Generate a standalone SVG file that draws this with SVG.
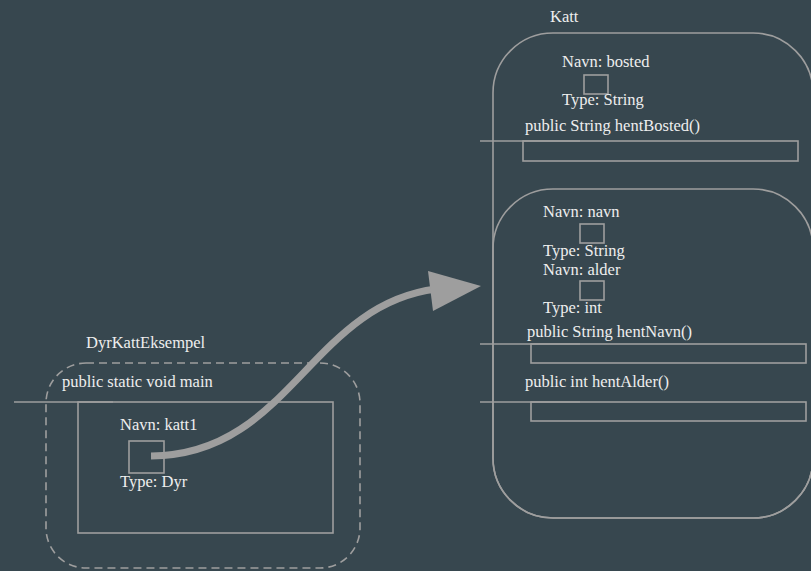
<svg xmlns="http://www.w3.org/2000/svg" width="811" height="571" viewBox="0 0 811 571">
  <style>
    text { font-family: "Liberation Serif", "DejaVu Serif", serif; font-size: 16.5px; fill: #eeeeee; }
    .frame { fill: none; stroke: #9e9e9e; stroke-width: 1.6; }
    .dash { fill: none; stroke: #9e9e9e; stroke-width: 1.6; stroke-dasharray: 8 5; }
    .stub { stroke: #9e9e9e; stroke-width: 1.6; }
  </style>
  <rect width="811" height="571" fill="#37474f"/>

  <!-- Katt class -->
  <g id="katt">
    <text x="550" y="22">Katt</text>
    <rect class="frame" x="493" y="33" width="320" height="485" rx="60"/>
    <g id="katt-bosted">
      <text x="562" y="67">Navn: bosted</text>
      <rect class="frame" x="584" y="75" width="24" height="19"/>
      <text x="562" y="105">Type: String</text>
    </g>
    <g id="katt-hentBosted">
      <text x="525" y="131">public String hentBosted()</text>
      <line class="stub" x1="480" y1="141" x2="580" y2="141"/>
      <rect class="frame" x="523" y="141" width="275" height="20"/>
    </g>
  </g>

  <!-- Dyr superclass part -->
  <g id="dyr">
    <rect class="frame" x="493" y="189" width="320" height="329" rx="60"/>
    <g id="dyr-navn">
      <text x="543" y="217">Navn: navn</text>
      <rect class="frame" x="580" y="224" width="24" height="19"/>
      <text x="543" y="256">Type: String</text>
    </g>
    <g id="dyr-alder">
      <text x="543" y="275">Navn: alder</text>
      <rect class="frame" x="580" y="281" width="24" height="19"/>
      <text x="543" y="313">Type: int</text>
    </g>
    <g id="dyr-hentNavn">
      <text x="527" y="337">public String hentNavn()</text>
      <line class="stub" x1="480" y1="344" x2="580" y2="344"/>
      <rect class="frame" x="531" y="344" width="275" height="19"/>
    </g>
    <g id="dyr-hentAlder">
      <text x="525" y="387">public int hentAlder()</text>
      <line class="stub" x1="480" y1="402" x2="580" y2="402"/>
      <rect class="frame" x="531" y="402" width="275" height="19"/>
    </g>
  </g>

  <!-- DyrKattEksempel class -->
  <g id="dyrKattEksempel">
    <text x="86" y="348">DyrKattEksempel</text>
    <rect class="dash" x="46" y="363" width="314" height="205" rx="40"/>
    <g id="main">
      <text x="62" y="387">public static void main</text>
      <line class="stub" x1="14" y1="402" x2="113" y2="402"/>
      <rect class="frame" x="78" y="402" width="255" height="131"/>
      <g id="katt1">
        <text x="120" y="430">Navn: katt1</text>
        <rect class="frame" x="129" y="441" width="35" height="32"/>
        <text x="120" y="487">Type: Dyr</text>
      </g>
    </g>
  </g>

  <!-- reference from katt1 to the Katt object -->
  <g id="connectors">
    <path d="M151,456 C290,455 310,305 436,289" fill="none" stroke="#9e9e9e" stroke-width="7"/>
    <polygon points="428,271 433,311 481,286" fill="#9e9e9e"/>
  </g>
</svg>
